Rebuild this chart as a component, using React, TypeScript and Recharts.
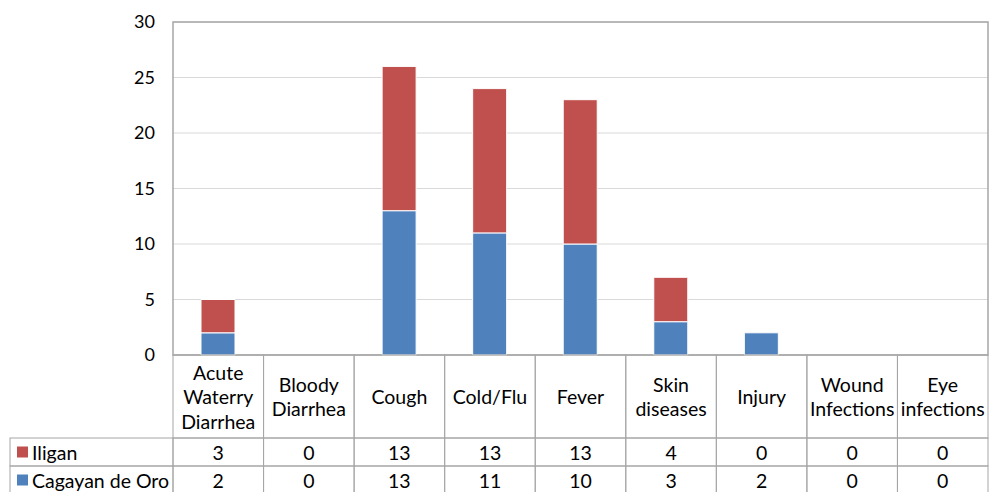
import { BarChart, Bar, XAxis, YAxis, CartesianGrid, ReferenceArea } from 'recharts'

const categories = [
  'Acute Waterry Diarrhea',
  'Bloody Diarrhea',
  'Cough',
  'Cold/Flu',
  'Fever',
  'Skin diseases',
  'Injury',
  'Wound Infections',
  'Eye infections',
]
const iligan = [3, 0, 13, 13, 13, 4, 0, 0, 0]
const cagayanDeOro = [2, 0, 13, 11, 10, 3, 2, 0, 0]
const yTicks = [0, 5, 10, 15, 20, 25, 30]

const RED = '#C0504D'
const BLUE = '#4F81BD'
const BORDER = '#a6a6a6'
const GRID = '#d9d9d9'
const FONT = 'Lato, "Open Sans", sans-serif'

const data = categories.map((c, i) => ({
  category: c,
  'Cagayan de Oro': cagayanDeOro[i],
  Iligan: iligan[i],
}))

// rows of the data table under the axis, top to bottom
const tableRows = [
  { name: 'Iligan', values: iligan, color: RED },
  { name: 'Cagayan de Oro', values: cagayanDeOro, color: BLUE },
]

const PLOT_LEFT = 173
const PLOT_RIGHT = 988
const COL_W = (PLOT_RIGHT - PLOT_LEFT) / categories.length
const HEADER_H = 83
const ROW_H = 28
const TABLE_LEFT = 10
const LINE_H = 24.5
const FS = 18
const TABLE_FS = 19.5

// one table column per category: header cell plus a value cell per series
function TableColumn(props: any) {
  const { x, y, payload, index } = props
  const left = x - COL_W / 2
  const lines = String(payload.value).split(' ')
  const firstY = y + HEADER_H / 2 - ((lines.length - 1) * LINE_H) / 2
  return (
    <g fontFamily={FONT} fontSize={TABLE_FS} fill="#000">
      <rect x={left} y={y} width={COL_W} height={HEADER_H} fill="none" stroke={BORDER} />
      {lines.map((l, i) => (
        <text key={i} x={x} y={firstY + i * LINE_H} textAnchor="middle" dominantBaseline="central">
          {l}
        </text>
      ))}
      {tableRows.map((r, ri) => {
        const top = y + HEADER_H + ri * ROW_H
        return (
          <g key={r.name}>
            <rect x={left} y={top} width={COL_W} height={ROW_H} fill="none" stroke={BORDER} />
            <text x={x} y={top + ROW_H / 2} textAnchor="middle" dominantBaseline="central">
              {r.values[index]}
            </text>
            {index === 0 && (
              <g>
                <rect x={TABLE_LEFT} y={top} width={PLOT_LEFT - TABLE_LEFT} height={ROW_H} fill="none" stroke={BORDER} />
                <rect x={TABLE_LEFT + 7} y={top + ROW_H / 2 - 5.5} width={11} height={11} fill={r.color} />
                <text x={TABLE_LEFT + 22} y={top + ROW_H / 2} dominantBaseline="central">
                  {r.name}
                </text>
              </g>
            )}
          </g>
        )
      })}
    </g>
  )
}

export default function App() {
  return (
    <div style={{ position: 'absolute', left: 0, top: 0, background: '#fff' }}>
      <BarChart width={998} height={492} data={data} margin={{ top: 22, right: 10, bottom: 0, left: 0 }}>
        <CartesianGrid vertical={false} stroke={GRID} />
        <XAxis
          dataKey="category"
          height={137}
          interval={0}
          axisLine={false}
          tickLine={false}
          tickSize={0}
          tickMargin={0}
          tick={<TableColumn />}
        />
        <YAxis
          width={PLOT_LEFT}
          domain={[0, 30]}
          ticks={yTicks}
          axisLine={false}
          tickLine={false}
          tickSize={0}
          tickMargin={18}
          tick={{ fontSize: FS, fontFamily: FONT, fill: '#000' }}
        />
        <Bar dataKey="Cagayan de Oro" stackId="a" fill={BLUE} stroke="#fff" strokeWidth={1} barSize={34} isAnimationActive={false} />
        <Bar dataKey="Iligan" stackId="a" fill={RED} stroke="#fff" strokeWidth={1} barSize={34} isAnimationActive={false} />
        <ReferenceArea y1={0} y2={30} fill="none" stroke={BORDER} strokeWidth={1.5} ifOverflow="visible" />
      </BarChart>
    </div>
  )
}
